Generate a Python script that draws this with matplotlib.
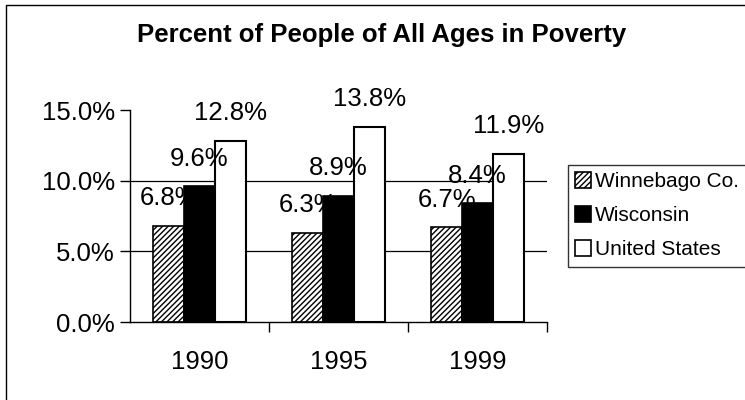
import numpy as np
import matplotlib
matplotlib.use("Agg")
import matplotlib.pyplot as plt
from matplotlib.patches import Rectangle

plt.rcParams['font.family'] = ['Liberation Sans', 'DejaVu Sans']
plt.rcParams['hatch.linewidth'] = 1.0

# datos
years = ['1990', '1995', '1999']
winnebago = [6.8, 6.3, 6.7]
wisconsin = [9.6, 8.9, 8.4]
united_states = [12.8, 13.8, 11.9]
series_names = ['Winnebago Co.', 'Wisconsin', 'United States']
yticks = [0, 5, 10, 15]

fig = plt.figure(figsize=(7.45, 4.0), dpi=100)
ax = fig.add_axes([130/745, 1-322/400, 417/745, 212/400])

x = np.arange(len(years))
w = 0.222

# barras rayadas, negras y blancas (cada serie tapa las etiquetas de la anterior)
b1 = ax.bar(x - w, winnebago, w, color='white', edgecolor='black', hatch='//////',
            linewidth=1.2, zorder=2)
b2 = ax.bar(x, wisconsin, w, color='black', edgecolor='black', linewidth=1.2, zorder=4)
b3 = ax.bar(x + w, united_states, w, color='white', edgecolor='none', zorder=4.5)
ax.bar(x + w, united_states, w, color='none', edgecolor='black', linewidth=1.5, zorder=6)

for xs, vals, z in [(x - w, winnebago, 3), (x, wisconsin, 5), (x + w, united_states, 7)]:
    for xi, v in zip(xs, vals):
        ax.annotate(f'{v:.1f}%', (xi, v), xytext=(0, 20), textcoords='offset points',
                    ha='center', va='center', fontsize=18.5, zorder=z)

ax.set_xlim(-0.5, 2.5)
ax.set_ylim(0, 15)
ax.set_yticks(yticks)
ax.set_yticklabels([f'{t:.1f}%' for t in yticks])
for t in yticks[1:-1]:
    ax.axhline(t, color='black', linewidth=0.9, zorder=1)

ax.set_xticks(x + 0.5)
ax.set_xticklabels([])
ax.set_xticks(x, minor=True)
ax.set_xticklabels(years, minor=True)
ax.tick_params(axis='x', which='major', direction='out', length=7, width=1)
ax.tick_params(axis='x', which='minor', length=0, pad=20, labelsize=18.5)
ax.tick_params(axis='y', direction='out', length=7, width=1, pad=4, labelsize=18.5)

for s in ['top', 'right']:
    ax.spines[s].set_visible(False)
for s in ['left', 'bottom']:
    ax.spines[s].set_linewidth(1)

fig.text(382/745, 1-35/400, 'Percent of People of All Ages in Poverty',
         ha='center', va='center', fontsize=18.5, fontweight='bold')

leg = fig.legend([b1, b2, b3], series_names, loc='upper left',
                 bbox_to_anchor=(568/745, 1-165/400), fontsize=15,
                 frameon=True, fancybox=False, borderpad=0.35, labelspacing=0.72,
                 handlelength=0.75, handleheight=0.75, handletextpad=0.2,
                 borderaxespad=0)
leg.get_frame().set_edgecolor('black')
leg.get_frame().set_linewidth(1)
for h in leg.legend_handles:
    h.set_edgecolor('black')
    h.set_linewidth(1.2)

# marco exterior
fig.patches.append(Rectangle((6/745, -0.5), 2, 1.5 - 5/400, transform=fig.transFigure,
                             fill=False, edgecolor='black', linewidth=1))

fig.savefig('out.png', dpi=100)
